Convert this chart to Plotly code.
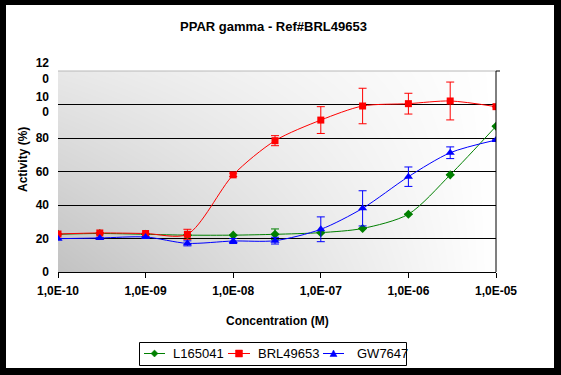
import base64, struct, zlib
import plotly.graph_objects as go

# ---------------- data ----------------
concentration = [1e-10, 3e-10, 1e-9, 3e-9, 1e-8, 3e-8, 1e-7, 3e-7, 1e-6, 3e-6, 1e-5]

l165041 = [22.5, 23.0, 22.5, 22.0, 22.0, 22.5, 23.5, 26.0, 34.5, 58.0, 87.0]
l165041_err = [None, None, None, None, None, 3.2, None, None, None, None, None]

brl49653 = [22.7, 23.3, 23.0, 22.5, 58.0, 78.4, 90.7, 99.1, 100.5, 102.1, 98.7]
brl49653_err = [None, None, None, 3.0, 1.0, 3.0, 8.0, 10.6, 6.2, 11.3, None]

gw7647 = [19.9, 20.3, 20.9, 17.1, 18.5, 18.7, 25.5, 38.0, 56.9, 71.2, 78.8]
gw7647_err = [None, None, None, 1.5, 1.5, 2.0, 7.4, 10.5, 5.8, 3.5, None]

x_tickvals = [1e-10, 1e-9, 1e-8, 1e-7, 1e-6, 1e-5]
x_ticktext = ["1,0E-10", "1,0E-09", "1,0E-08", "1,0E-07", "1,0E-06", "1,0E-05"]
y_tickvals = [0, 20, 40, 60, 80, 100, 120]
y_ticktext = ["0", "20", "40", "60", "80", "10<br>0", "12<br>0"]
y_gridvals = [20, 40, 60, 80, 100]

series_names = ["L165041", "BRL49653", "GW7647"]
series_colors = ["#008000", "#ff0000", "#0000ff"]

# ---------------- layout geometry ----------------
FONT = "Liberation Sans, Arial, sans-serif"
W, H = 561, 375
L, R, T, B = 58, 65, 71, 103
pw, ph = W - L - R, H - T - B
FRAME = (6, 5, 7, 7)  # left, top, right, bottom black frame thickness

def px(x):
    return (x - L) / pw

def py(y):
    return (H - B - y) / ph

# ---------------- full-figure background image (frame, white, gradient) ----------------
def background_png():
    fl, ft, fr, fb = FRAME
    rows = []
    for j in range(H):
        row = bytearray([0])
        for i in range(W):
            if i < fl or i >= W - fr or j < ft or j >= H - fb:
                c = 0
            elif L <= i < L + pw and T <= j < T + ph:
                u = (i - L) / (pw - 1)
                v = 1 - (j - T) / (ph - 1)
                t = 1 - (1 - u) * (1 - 0.62 * v)
                c = int(round(194 + 61 * t))
            else:
                c = 255
            row.append(c)
        rows.append(bytes(row))
    raw = b"".join(rows)

    def chunk(tag, data):
        c = struct.pack(">I", len(data)) + tag + data
        return c + struct.pack(">I", zlib.crc32(tag + data) & 0xFFFFFFFF)

    png = b"\x89PNG\r\n\x1a\n"
    png += chunk(b"IHDR", struct.pack(">IIBBBBB", W, H, 8, 0, 0, 0, 0))
    png += chunk(b"IDAT", zlib.compress(raw, 9))
    png += chunk(b"IEND", b"")
    return "data:image/png;base64," + base64.b64encode(png).decode()

bg = background_png()

# ---------------- figure ----------------
fig = go.Figure()

symbols = ["diamond", "square", "triangle-up"]
sizes = [7, 7, 8]
for name, vals, errs, col, sym, size in zip(
        series_names, [l165041, brl49653, gw7647],
        [l165041_err, brl49653_err, gw7647_err], series_colors, symbols, sizes):
    fig.add_trace(go.Scatter(
        x=concentration, y=vals, name=name, mode="lines+markers",
        line=dict(color=col, width=1, shape="spline", smoothing=0.8),
        marker=dict(symbol=sym, size=size, color=col),
        error_y=dict(type="data", array=errs, color=col, thickness=1, width=4, visible=True),
        showlegend=False,
    ))

fig.update_layout(
    width=W, height=H,
    margin=dict(l=L, r=R, t=T, b=B),
    paper_bgcolor="black",
    plot_bgcolor="rgba(0,0,0,0)",
    font=dict(family=FONT, color="black", size=12),
    showlegend=False,
    images=[dict(source=bg, xref="paper", yref="paper", x=px(0), y=py(0),
                 sizex=W / pw, sizey=H / ph,
                 sizing="stretch", layer="below", xanchor="left", yanchor="top")],
)

fig.update_xaxes(
    type="log", range=[-10, -5],
    tickvals=x_tickvals, ticktext=x_ticktext,
    tickfont=dict(family=FONT, size=12, color="black", weight="bold"),
    showline=True, linecolor="black", linewidth=1,
    ticks="outside", ticklen=5, tickcolor="black", tickwidth=1,
    ticklabelstandoff=3,
    showgrid=False, zeroline=False,
)
fig.update_yaxes(
    range=[0, 120],
    tickvals=y_tickvals, ticktext=y_ticktext,
    tickfont=dict(family=FONT, size=12, color="black", weight="bold"),
    showline=False, ticks="", showgrid=False, zeroline=False,
    ticklabelstandoff=8,
    minor=dict(tickvals=y_gridvals, showgrid=True, gridcolor="black", gridwidth=1, ticks=""),
)

shapes = []
shapes.append(dict(type="line", xref="paper", yref="paper", x0=0, x1=1, y0=1, y1=1,
                   line=dict(color="#b8b8b8", width=1), layer="above"))
shapes.append(dict(type="line", xref="paper", yref="paper", x0=1, x1=1, y0=0, y1=1,
                   line=dict(color="black", width=1), layer="above"))
shapes.append(dict(type="line", xref="paper", yref="paper", x0=1, x1=px(500), y0=1, y1=1,
                   line=dict(color="black", width=1), layer="above"))

# ---------------- custom legend ----------------
LX0, LX1, LY0, LY1 = 139.5, 406.5, 342.5, 365.5
LYC = 353.5
shapes.append(dict(type="rect", xref="paper", yref="paper",
                   x0=px(LX0), x1=px(LX1), y0=py(LY1), y1=py(LY0),
                   fillcolor="white", line=dict(color="black", width=1), layer="above"))
item_line = [(144, 165), (228, 250), (323, 344)]
item_text = [171, 256, 355]

def path_px(points):
    return "M " + " L ".join(f"{px(x):.5f},{py(y):.5f}" for x, y in points) + " Z"

for (lx0, lx1), tx, name, col, sym in zip(item_line, item_text, series_names, series_colors, symbols):
    shapes.append(dict(type="line", xref="paper", yref="paper", x0=px(lx0), x1=px(lx1),
                       y0=py(LYC), y1=py(LYC), line=dict(color=col, width=1), layer="above"))
    cx = (lx0 + lx1) / 2
    if sym == "diamond":
        pts = [(cx, LYC - 3.5), (cx + 3.5, LYC), (cx, LYC + 3.5), (cx - 3.5, LYC)]
    elif sym == "square":
        pts = [(cx - 3.5, LYC - 3.5), (cx + 3.5, LYC - 3.5), (cx + 3.5, LYC + 3.5), (cx - 3.5, LYC + 3.5)]
    else:
        pts = [(cx, LYC - 3.5), (cx + 3.5, LYC + 3), (cx - 3.5, LYC + 3)]
    shapes.append(dict(type="path", xref="paper", yref="paper", path=path_px(pts),
                       fillcolor=col, line=dict(color=col, width=0.5), layer="above"))
    fig.add_annotation(text=name, xref="paper", yref="paper", x=px(tx), y=py(LYC),
                       xanchor="left", yanchor="middle", showarrow=False,
                       font=dict(family=FONT, size=13, color="black"))

fig.update_layout(shapes=shapes)

fig.add_annotation(text="<b>PPAR gamma - Ref#BRL49653</b>", xref="paper", yref="paper",
                   x=px(273), y=py(26.5), xanchor="center", yanchor="middle", showarrow=False,
                   font=dict(family=FONT, size=13, color="black"))
fig.add_annotation(text="<b>Concentration (M)</b>", xref="paper", yref="paper",
                   x=px(277), y=py(321), xanchor="center", yanchor="middle", showarrow=False,
                   font=dict(family=FONT, size=12, color="black"))
fig.add_annotation(text="<b>Activity (%)</b>", xref="paper", yref="paper",
                   x=px(23), y=py(160), xanchor="center", yanchor="middle", showarrow=False,
                   textangle=-90, font=dict(family=FONT, size=12, color="black"))

fig.write_html("out.html", config={"displayModeBar": False}, full_html=True,
               post_script=("document.documentElement.style.margin='0';"
                            "document.body.style.margin='0';document.body.style.padding='0';"
                            "document.body.style.overflow='hidden';"
                            "document.body.style.background='black';window.scrollTo(0,0);"))
